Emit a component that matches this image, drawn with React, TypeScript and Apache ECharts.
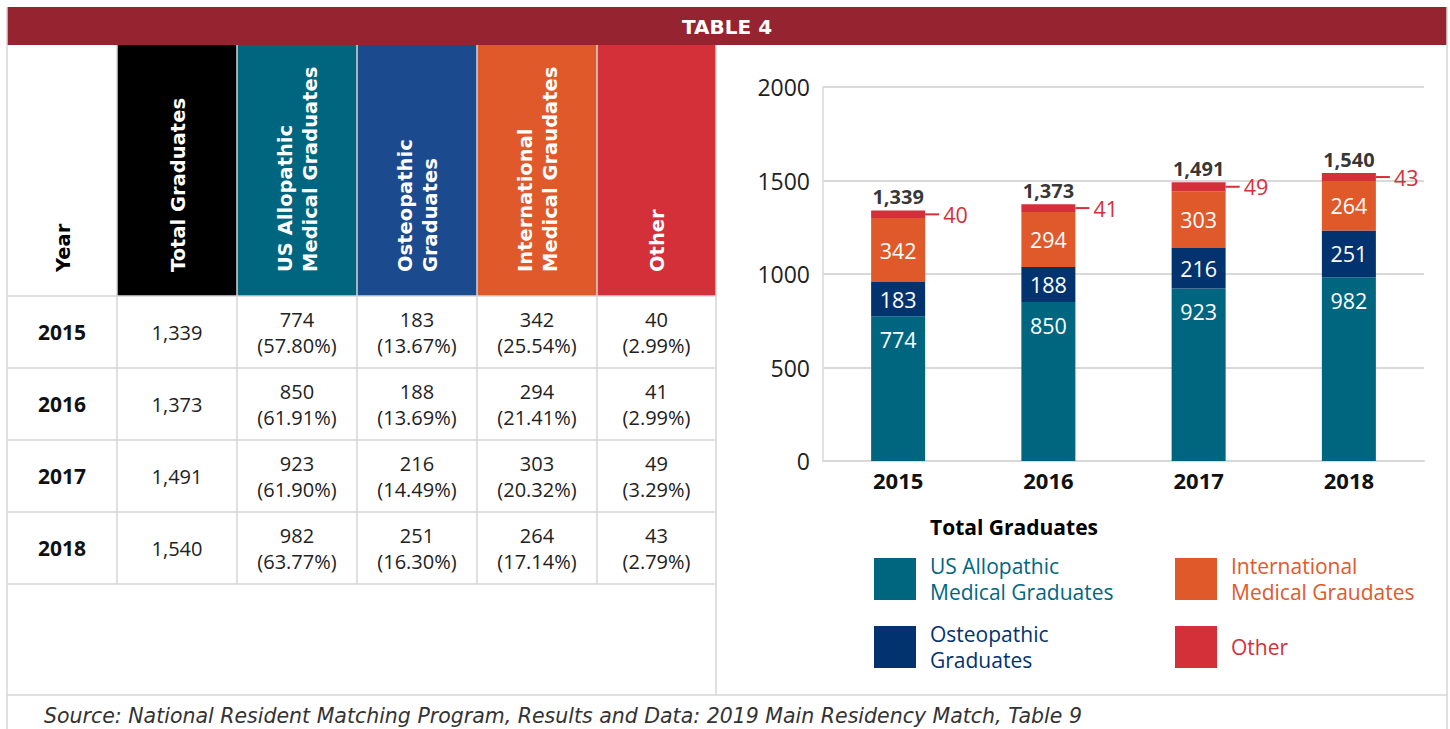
import React, { useEffect, useRef } from "react";
import * as echarts from "echarts";

const years = ["2015", "2016", "2017", "2018"];
const usAllopathic = [774, 850, 923, 982];
const osteopathic = [183, 188, 216, 251];
const international = [342, 294, 303, 264];
const other = [40, 41, 49, 43];
const totals = [1339, 1373, 1491, 1540];
const yTicks = { min: 0, max: 2000, interval: 500 };

const headerLabels = [
  "Year",
  "Total Graduates",
  "US Allopathic\nMedical Graduates",
  "Osteopathic\nGraduates",
  "International\nMedical Graudates",
  "Other",
];
const seriesNames = [
  "US Allopathic Medical Graduates",
  "Osteopathic Graduates",
  "International Medical Graudates",
  "Other",
];
const legendLabels: Record<string, string> = {
  "US Allopathic Medical Graduates": "US Allopathic\nMedical Graduates",
  "Osteopathic Graduates": "Osteopathic\nGraduates",
  "International Medical Graudates": "International\nMedical Graudates",
  Other: "Other",
};
const titleText = "TABLE 4";
const legendTitle = "Total Graduates";
const sourceText =
  "Source: National Resident Matching Program, Results and Data: 2019 Main Residency Match, Table 9";

const FONT = "'Open Sans', sans-serif";
const WIDE = "'DejaVu Sans', sans-serif";
const C_US = "#006680";
const C_OST = "#03336e";
const C_OST_HDR = "#1c4a8f";
const C_INT = "#e0592a";
const C_OTH = "#d3303a";
const C_TITLE = "#962430";
const C_GRID = "#d6d6d6";

const fmt = (v: number) => v.toLocaleString("en-US");
const pct = (v: number, t: number) => "(" + ((v / t) * 100).toFixed(2) + "%)";

function buildGraphics() {
  const els: any[] = [];
  const colX = [7, 117, 237, 357, 477, 597, 716];
  const hTop = 45;
  const hBot = 296;
  const rowH = 72;
  const hdrFill = ["#ffffff", "#000000", C_US, C_OST_HDR, C_INT, C_OTH];
  const hdrText = ["#000000", "#fff", "#fff", "#fff", "#fff", "#fff"];

  // title bar
  els.push({ type: "rect", shape: { x: 7, y: 7, width: 1440, height: 38 }, style: { fill: C_TITLE } });
  els.push({
    type: "text", x: 727, y: 27,
    style: { text: titleText, fill: "#fff", font: `bold 20px ${WIDE}`, align: "center", verticalAlign: "middle" },
  });

  // header cells
  for (let i = 0; i < 6; i++) {
    els.push({
      type: "rect",
      shape: { x: colX[i], y: hTop, width: colX[i + 1] - colX[i], height: hBot - hTop },
      style: { fill: hdrFill[i] },
    });
    els.push({
      type: "text",
      x: (colX[i] + colX[i + 1]) / 2 + 1,
      y: 272,
      rotation: Math.PI / 2,
      style: {
        text: headerLabels[i],
        fill: hdrText[i],
        font: `bold 19.5px ${WIDE}`,
        lineHeight: 25,
        align: "left",
        verticalAlign: "middle",
      },
    });
  }

  // data rows
  const cols = [usAllopathic, osteopathic, international, other];
  years.forEach((yr, r) => {
    const cy = hBot + rowH * r + rowH / 2;
    els.push({
      type: "text", x: (colX[0] + colX[1]) / 2, y: cy,
      style: { text: yr, fill: "#111", font: `bold 21px ${FONT}`, align: "center", verticalAlign: "middle" },
    });
    els.push({
      type: "text", x: (colX[1] + colX[2]) / 2, y: cy,
      style: { text: fmt(totals[r]), fill: "#222", font: `20px ${FONT}`, align: "center", verticalAlign: "middle" },
    });
    cols.forEach((arr, c) => {
      els.push({
        type: "text", x: (colX[c + 2] + colX[c + 3]) / 2, y: cy,
        style: {
          text: fmt(arr[r]) + "\n" + pct(arr[r], totals[r]),
          fill: "#222", font: `20px ${FONT}`, lineHeight: 26,
          align: "center", verticalAlign: "middle",
        },
      });
    });
  });

  const line = (x1: number, y1: number, x2: number, y2: number) =>
    els.push({ type: "line", shape: { x1, y1, x2, y2 }, style: { stroke: C_GRID, lineWidth: 1.5 } });

  // horizontal lines
  for (let r = 0; r <= years.length; r++) line(7, hBot + rowH * r, 716, hBot + rowH * r);
  line(7, 695, 1447, 695);
  // vertical lines
  for (let i = 1; i < 6; i++) line(colX[i], hTop, colX[i], hBot + rowH * years.length);
  line(7, 7, 7, 729);
  line(716, hTop, 716, 695);
  line(1447, 7, 1447, 729);

  // legend title
  els.push({
    type: "text", x: 930, y: 527,
    style: { text: legendTitle, fill: "#000", font: `bold 21px ${FONT}`, align: "left", verticalAlign: "middle" },
  });

  // source
  els.push({
    type: "text", x: 44, y: 716,
    style: { text: sourceText, fill: "#333", font: `italic 20.5px ${WIDE}`, align: "left", verticalAlign: "middle" },
  });
  return els;
}

export default function App() {
  const ref = useRef<HTMLDivElement>(null);
  useEffect(() => {
    if (!ref.current) return;
    const chart = echarts.init(ref.current, undefined, { renderer: "svg" });
    const colors = [C_US, C_OST, C_INT, C_OTH];
    const dataArr = [usAllopathic, osteopathic, international, other];
    const series: any[] = dataArr.map((d, i) => {
      const s: any = {
        name: seriesNames[i],
        type: "bar",
        stack: "total",
        barWidth: 54,
        data: d,
        itemStyle: { color: colors[i] },
        label: {
          show: true,
          color: "#fff",
          fontSize: 21.5,
          fontFamily: FONT,
          position: i === 0 ? "insideTop" : "inside",
          distance: 12,
        },
      };
      if (i === 3) {
        s.label = {
          show: true,
          position: "right",
          distance: 0,
          formatter: "{ln|}{v|{c}}",
          rich: {
            ln: { width: 14, height: 2, backgroundColor: C_OTH },
            v: { color: C_OTH, fontSize: 21.5, fontFamily: FONT, padding: [0, 0, 0, 4] },
          },
        };
      }
      return s;
    });
    series.push({
      type: "scatter",
      name: "totals",
      data: totals,
      symbolSize: 0,
      silent: true,
      label: {
        show: true,
        position: "top",
        distance: 4,
        formatter: (p: any) => fmt(p.value),
        color: "#000",
        fontWeight: "bold",
        fontSize: 20,
        fontFamily: FONT,
      },
    });

    const legendBase = {
      orient: "vertical",
      top: 553,
      padding: 0,
      itemWidth: 42,
      itemHeight: 42,
      icon: "rect",
      selectedMode: false,
      formatter: (n: string) => legendLabels[n],
    };
    const legText = (c: string) => ({ color: c, fontSize: 21, lineHeight: 26, fontFamily: FONT, padding: [0, 0, 0, 9] });

    chart.setOption({
      animation: false,
      textStyle: { fontFamily: FONT },
      grid: { left: 823, right: 26, top: 87, bottom: 268 },
      xAxis: {
        type: "category",
        data: years,
        axisTick: { show: false },
        axisLine: { lineStyle: { color: "#d9d9d9", width: 2 } },
        axisLabel: { color: "#111", fontWeight: "bold", fontSize: 22, margin: 8, fontFamily: FONT },
      },
      yAxis: {
        type: "value",
        min: yTicks.min,
        max: yTicks.max,
        interval: yTicks.interval,
        axisLine: { show: true, lineStyle: { color: "#d9d9d9", width: 1.5 } },
        splitLine: { lineStyle: { color: "#d9d9d9", width: 2 } },
        axisLabel: { color: "#222", fontSize: 23, margin: 13, fontFamily: FONT, formatter: (v: number) => String(v) },
      },
      legend: [
        {
          ...legendBase,
          left: 874,
          itemGap: 16,
          data: [
            { name: seriesNames[0], textStyle: legText(C_US) },
            { name: seriesNames[1], textStyle: legText(C_OST) },
          ],
        },
        {
          ...legendBase,
          left: 1175,
          itemGap: 21,
          data: [
            { name: seriesNames[2], textStyle: legText(C_INT) },
            { name: seriesNames[3], textStyle: legText(C_OTH) },
          ],
        },
      ],
      graphic: { elements: buildGraphics() },
      series,
    });
    return () => chart.dispose();
  }, []);
  return (
    <div
      ref={ref}
      style={{ position: "fixed", left: 0, top: 0, width: 1450, height: 729, background: "#fff" }}
    />
  );
}
